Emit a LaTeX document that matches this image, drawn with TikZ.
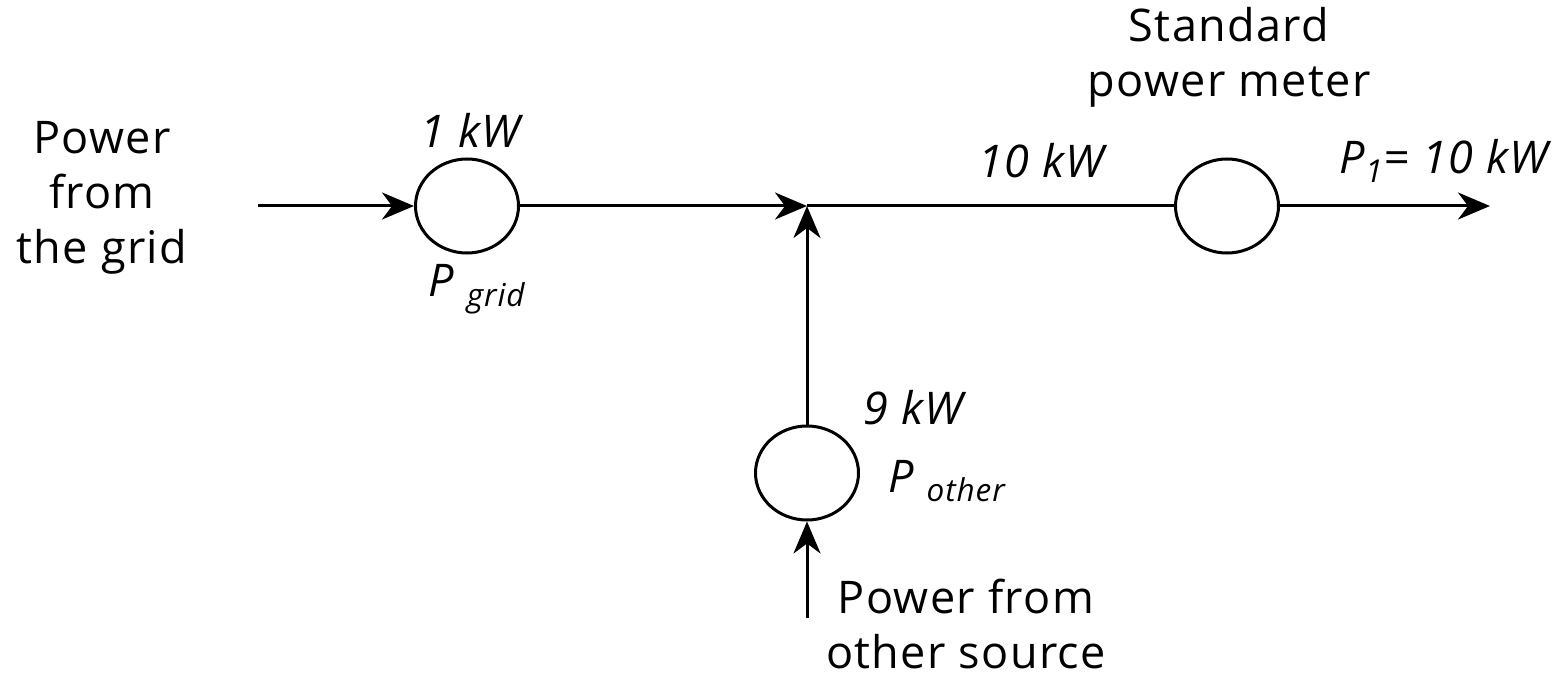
\documentclass[tikz,border=0pt]{standalone}
\usepackage{fontspec}
\setmainfont{Open Sans}[LetterSpace=3]
\usetikzlibrary{arrows.meta,shapes.geometric}

\begin{document}
\begin{tikzpicture}[>={Stealth[length=16pt,width=13.5pt,inset=5pt]}, x=0.5pt, y=-0.5pt, line width=1.5pt,
    meter/.style={draw, ellipse, minimum width=51.5pt, minimum height=47pt, inner sep=0pt},
    lbl/.style={font=\fontsize{22.5}{27.5}\selectfont, align=center, inner sep=0pt},
    val/.style={font=\fontsize{22.5}{27.5}\selectfont\itshape, inner sep=0pt}]
	\useasboundingbox (0,0) rectangle (1565,674);
	% meters
	\node[meter] (grid) at (467,206) {};
	\node[meter] (meter) at (1227,206) {};
	\node[meter] (other) at (807,473) {};
	\coordinate (join) at (807,206);
	\coordinate (gridin) at (258,206);
	\coordinate (out) at (1490,206);
	\coordinate (otherin) at (807,618);
	% power flow
	\draw[->] (gridin) -- (grid);
	\draw[->] (grid) -- (join);
	\draw (join) -- (meter);
	\draw[->] (meter) -- (out);
	\draw[->] (other) -- (join);
	\draw[->] (otherin) -- (other);
	% labels
	\node[lbl] (gridtxt) at (102,198) {Power\\from\\the grid};
	\node[lbl] (metertxt) at (1229,57) {Standard\\power meter};
	\node[lbl] (othertxt) at (966,624) {Power from\\other source};
	\node[val] (gridkw) at (470,130) {1 kW};
	\node[val] (joinkw) at (1041,161) {10 kW};
	\node[val] (otherkw) at (913,408) {9 kW};
	\node[val] (outkw) at (1444,161) {P\textsubscript{1}= 10 kW};
	\node[val] (pgrid) at (477,289) {P \textsubscript{grid}};
	\node[val] (pother) at (947,481) {P \textsubscript{other}};
\end{tikzpicture}
\end{document}
